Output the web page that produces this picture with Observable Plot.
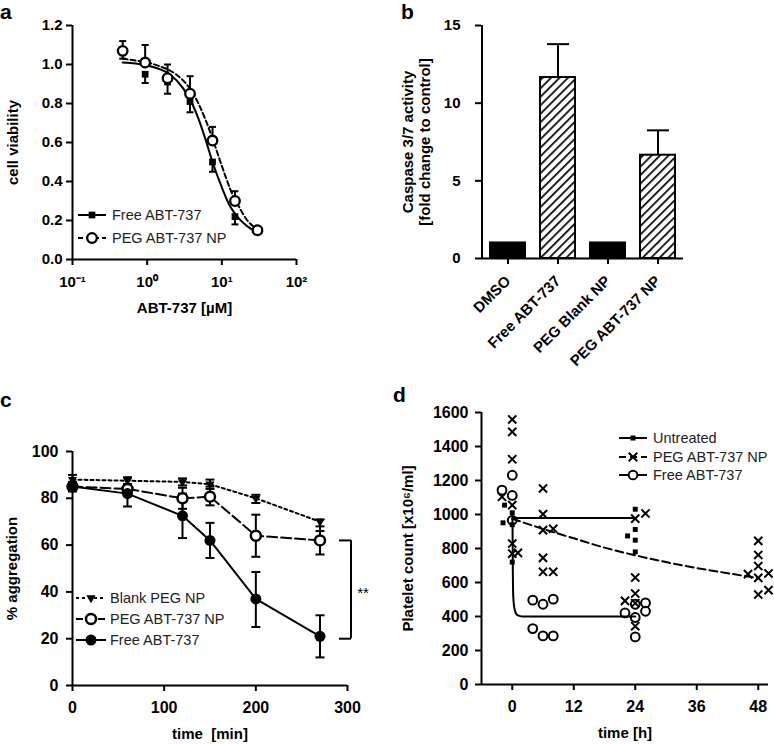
<!DOCTYPE html>
<html><head><meta charset="utf-8">
<script src="https://cdn.jsdelivr.net/npm/d3@7"></script>
<script src="https://cdn.jsdelivr.net/npm/@observablehq/plot@0.6"></script>
<style>
body{margin:0;background:#fff;}
#fig{position:relative;width:774px;height:744px;overflow:hidden;background:#fff;font-family:"Liberation Sans",Arial,Helvetica,sans-serif;}
.panel{position:absolute;}
.panel svg{overflow:visible;}
#overlay{position:absolute;left:0;top:0;pointer-events:none;}
</style></head><body><div id="fig"></div>
<script>
const FONT = '"Liberation Sans", Arial, Helvetica, sans-serif';

// ---------- Panel a: cell viability ----------
const concA = [0.47, 0.94, 1.875, 3.75, 7.5, 15, 30];
const freeA = [1.06, 0.95, 0.91, 0.81, 0.50, 0.22, 0.15];
const freeLoA = [1.03, 0.905, 0.85, 0.755, 0.45, 0.18, 0.14];
const pegA = [1.07, 1.01, 0.93, 0.85, 0.61, 0.30, 0.15];
const pegHiA = [1.12, 1.10, 1.00, 0.94, 0.68, 0.35, 0.165];
const fitConcA = [0.47, 0.7, 1, 1.5, 2, 3, 4, 5, 6, 7.5, 10, 13, 17, 22, 30];
const freeFitA = [1.01, 1.005, 0.995, 0.975, 0.95, 0.88, 0.80, 0.71, 0.62, 0.50, 0.37, 0.27, 0.21, 0.17, 0.14];
const pegFitA = [1.03, 1.02, 1.01, 0.99, 0.97, 0.92, 0.86, 0.79, 0.72, 0.62, 0.48, 0.36, 0.27, 0.20, 0.155];
const xTicksA = [0.1, 1, 10, 100];
const xTickLabelsA = ["10\u207B\u00B9", "10\u2070", "10\u00B9", "10\u00B2"];
const yTicksA = [0, 0.2, 0.4, 0.6, 0.8, 1.0, 1.2];

// ---------- Panel b: caspase activity ----------
const catsB = ["DMSO", "Free ABT-737", "PEG Blank NP", "PEG ABT-737 NP"];
const valsB = [1, 11.65, 1, 6.65];
const hiB = [null, 13.8, null, 8.25];
const hatchB = [false, true, false, true];
const yTicksB = [0, 5, 10, 15];
const yLabelB = ["Caspase 3/7 activity", "[fold change to control]"];

// ---------- Panel c: aggregation ----------
const timeC = [0, 60, 120, 150, 200, 270];
const blankC = [88, 87.5, 87, 86, 80, 70];
const blankLoC = [86, 86, 85.5, 84, 78, 66];
const blankHiC = [90, 89, 88.5, 88, 81.5, 71];
const pegC = [85, 84, 80, 80.7, 64, 62];
const pegLoC = [83, 81, 75.5, 77, 55, 56];
const pegHiC = [87, 86, 84.5, 85, 73, 68];
const freeC = [85, 82, 72.5, 62, 37, 21];
const freeLoC = [83, 76.5, 63, 54.5, 25, 12];
const freeHiC = [87, 86, 82, 69.5, 48.5, 30];
const xTicksC = [0, 100, 200, 300];
const yTicksC = [0, 20, 40, 60, 80, 100];

// ---------- Panel d: platelet count ----------
const untreatedH = [-1.5, -1.8, 0, 0, 0, 22.5, 24, 24, 24, 24];
const untreatedV = [1055, 951, 1010, 940, 720, 874, 1031, 912, 849, 780];
const pegH = [0, 0, 0, -2, 0, 0, 0, 1.1, 6, 6, 6, 8, 6, 6, 8, 24, 26, 24, 24, 22, 24, 24, 46, 48, 48, 48, 48, 48, 50, 50];
const pegV = [1559, 1486, 1325, 1104, 1055, 829, 770, 774, 1153, 1002, 908, 916, 745, 663, 663, 976, 1006, 629, 535, 492, 478, 343, 649, 845, 762, 697, 627, 529, 653, 555];
const freeH = [-2, 0, 0, 0, 4, 6, 8, 4, 6, 8, 22, 24, 24, 24, 26, 26];
const freeV = [1143, 1231, 1112, 966, 496, 472, 502, 329, 286, 286, 421, 472, 394, 280, 480, 431];
const untreatedFitH = [0, 24];
const untreatedFitV = [980, 980];
const freeFitH = [0, 0.05, 0.1, 0.2, 0.5, 1, 2, 24];
const freeFitV = [975, 960, 720, 515, 437, 408, 400, 400];
const pegFitH = [0, 6, 12, 18, 24, 30, 36, 42, 48];
const pegFitV = [975, 915, 860, 805, 760, 720, 685, 655, 625];
const xTicksD = [0, 12, 24, 36, 48];
const yTicksD = [0, 200, 400, 600, 800, 1000, 1200, 1400, 1600];

// ---------- helpers ----------
const capSymbol = {draw(ctx, size) { const r = Math.sqrt(size / Math.PI); ctx.moveTo(-r, 0); ctx.lineTo(r, 0); }};
const zip = (keys, arrs) => arrs[0].map((_, i) => Object.fromEntries(keys.map((k, j) => [k, arrs[j][i]])));
const baseStyle = (fs) => ({fontFamily: FONT, fontSize: fs + "px", fontWeight: "bold", color: "black", background: "transparent", overflow: "visible"});
const labelOpts = {fontSize: 15, fontWeight: "bold", textAnchor: "middle", lineAnchor: "middle"};
const fig = document.getElementById("fig");
function place(svg, left, top, w) {
  const div = document.createElement("div");
  div.className = "panel";
  div.style.left = left + "px"; div.style.top = top + "px"; div.style.width = w + "px";
  div.appendChild(svg); fig.appendChild(div);
}

// ---------- Panel a ----------
const rowsA = zip(["c", "free", "freeLo", "peg", "pegHi"], [concA, freeA, freeLoA, pegA, pegHiA]);
const fitA = zip(["c", "free", "peg"], [fitConcA, freeFitA, pegFitA]);
const plotA = Plot.plot({
  width: 390, height: 320, marginLeft: 72, marginRight: 94, marginTop: 25, marginBottom: 61,
  style: baseStyle(15),
  x: {type: "log", domain: [0.1, 100], label: null},
  y: {domain: [0, 1.2], label: null},
  marks: [
    Plot.axisX({ticks: xTicksA, tickFormat: d => xTickLabelsA[xTicksA.indexOf(d)], tickSize: 6, tickPadding: 11, strokeWidth: 2, label: null}),
    Plot.axisY({ticks: yTicksA, tickFormat: d3.format(".1f"), tickSize: 6, tickPadding: 4, strokeWidth: 2, label: null}),
    Plot.ruleY([0], {strokeWidth: 2}),
    Plot.ruleX([0.1], {strokeWidth: 2}),
    Plot.text(["ABT-737 [\u00B5M]"], {frameAnchor: "bottom", dy: 49, ...labelOpts}),
    Plot.text(["cell viability"], {frameAnchor: "left", dx: -59, rotate: -90, ...labelOpts}),
    Plot.ruleX(rowsA, {x: "c", y1: "free", y2: "freeLo", strokeWidth: 2}),
    Plot.dot(rowsA, {x: "c", y: "freeLo", symbol: capSymbol, r: 3.5, stroke: "black", fill: "none", strokeWidth: 2}),
    Plot.ruleX(rowsA, {x: "c", y1: "peg", y2: "pegHi", strokeWidth: 2}),
    Plot.dot(rowsA, {x: "c", y: "pegHi", symbol: capSymbol, r: 3.5, stroke: "black", fill: "none", strokeWidth: 2}),
    Plot.line(fitA, {x: "c", y: "free", curve: "monotone-x", strokeWidth: 2}),
    Plot.line(fitA, {x: "c", y: "peg", curve: "monotone-x", strokeWidth: 2, strokeDasharray: "5,3"}),
    Plot.dot(rowsA, {x: "c", y: "free", symbol: "square", r: 3.8, fill: "black"}),
    Plot.dot(rowsA, {x: "c", y: "peg", r: 4.8, stroke: "black", strokeWidth: 2.3, fill: "white"})
  ]
});
place(plotA, 0, 0, 390);

// ---------- Panel b ----------
const rowsB = zip(["c", "v", "hi", "hatch"], [catsB, valsB, hiB, hatchB]);
const pIn = 0.3, pOut = 0.17, wB = 384, mlB = 91, mrB = 91;
const stepB = (wB - mlB - mrB) / (catsB.length - pIn + 2 * pOut);
const leftOffB = stepB * pOut + stepB * (1 - pIn) / 2;
const plotB = Plot.plot({
  width: wB, height: 380, marginLeft: mlB, marginRight: mrB, marginTop: 25, marginBottom: 122,
  style: baseStyle(15),
  x: {type: "band", domain: catsB, paddingInner: pIn, paddingOuter: pOut, label: null},
  y: {domain: [0, 15], label: null},
  marks: [
    Plot.barY(rowsB.filter(d => !d.hatch), {x: "c", y: "v", fill: "black", stroke: "black", strokeWidth: 2}),
    Plot.barY(rowsB.filter(d => d.hatch), {x: "c", y: "v", fill: "url(#hatchB)", stroke: "black", strokeWidth: 2}),
    Plot.ruleX(rowsB.filter(d => d.hi != null), {x: "c", y1: "v", y2: "hi", strokeWidth: 2}),
    Plot.dot(rowsB.filter(d => d.hi != null), {x: "c", y: "hi", symbol: capSymbol, r: 11, stroke: "black", fill: "none", strokeWidth: 2}),
    Plot.axisX({tickRotate: -45, tickSize: 6, tickPadding: 14, strokeWidth: 2, fontSize: 15, label: null}),
    Plot.axisY({ticks: yTicksB, tickSize: 6, tickPadding: 15, strokeWidth: 2, label: null}),
    Plot.ruleY([0], {strokeWidth: 2}),
    Plot.ruleX([catsB[0]], {dx: -leftOffB, strokeWidth: 2}),
    Plot.text([yLabelB[0]], {frameAnchor: "left", dx: -73, rotate: -90, ...labelOpts}),
    Plot.text([yLabelB[1]], {frameAnchor: "left", dx: -56, rotate: -90, ...labelOpts})
  ]
});
{
  const defs = d3.select(plotB).insert("defs", ":first-child");
  const pat = defs.append("pattern").attr("id", "hatchB").attr("patternUnits", "userSpaceOnUse")
    .attr("width", 6).attr("height", 6).attr("patternTransform", "rotate(45)");
  pat.append("rect").attr("width", 6).attr("height", 6).attr("fill", "white");
  pat.append("rect").attr("width", 1.7).attr("height", 6).attr("fill", "black");
}
place(plotB, 390, 0, wB);

// ---------- Panel c ----------
const rowsC = zip(["t", "blank", "blankLo", "blankHi", "peg", "pegLo", "pegHi", "free", "freeLo", "freeHi"],
  [timeC, blankC, blankLoC, blankHiC, pegC, pegLoC, pegHiC, freeC, freeLoC, freeHiC]);
const lastC = rowsC[rowsC.length - 1];
const errMarks = (lo, hi) => [
  Plot.ruleX(rowsC, {x: "t", y1: lo, y2: hi, strokeWidth: 2}),
  Plot.dot(rowsC, {x: "t", y: lo, symbol: capSymbol, r: 4.5, stroke: "black", fill: "none", strokeWidth: 2}),
  Plot.dot(rowsC, {x: "t", y: hi, symbol: capSymbol, r: 4.5, stroke: "black", fill: "none", strokeWidth: 2})
];
const plotC = Plot.plot({
  width: 390, height: 364, marginLeft: 72, marginRight: 43, marginTop: 71, marginBottom: 59,
  style: baseStyle(16),
  x: {domain: [0, 300], label: null},
  y: {domain: [0, 100], label: null},
  marks: [
    Plot.axisX({ticks: xTicksC, tickSize: 6, tickPadding: 10, strokeWidth: 2, label: null}),
    Plot.axisY({ticks: yTicksC, tickSize: 6, tickPadding: 8, strokeWidth: 2, label: null}),
    Plot.ruleY([0], {strokeWidth: 2}),
    Plot.ruleX([0], {strokeWidth: 2}),
    Plot.text(["time  [min]"], {frameAnchor: "bottom", dy: 49, ...labelOpts}),
    Plot.text(["% aggregation"], {frameAnchor: "left", dx: -60, rotate: -90, ...labelOpts}),
    ...errMarks("blankLo", "blankHi"),
    ...errMarks("pegLo", "pegHi"),
    ...errMarks("freeLo", "freeHi"),
    Plot.line(rowsC, {x: "t", y: "blank", strokeWidth: 2, strokeDasharray: "3,3"}),
    Plot.line(rowsC, {x: "t", y: "peg", strokeWidth: 2, strokeDasharray: "10,4"}),
    Plot.line(rowsC, {x: "t", y: "free", strokeWidth: 2}),
    Plot.dot(rowsC, {x: "t", y: "blank", symbol: "triangle", rotate: 180, r: 3.4, fill: "black"}),
    Plot.dot(rowsC, {x: "t", y: "peg", r: 5, stroke: "black", strokeWidth: 2.5, fill: "white"}),
    Plot.dot(rowsC, {x: "t", y: "free", r: 5.5, fill: "black"}),
    // significance bracket between last PEG ABT-737 NP and Free ABT-737 values
    Plot.ruleX([lastC.t], {y1: lastC.peg, y2: lastC.free - 1, dx: 31, strokeWidth: 2}),
    Plot.dot([lastC.peg, lastC.free - 1], {x: lastC.t, y: d => d, dx: 25, symbol: capSymbol, r: 6, stroke: "black", fill: "none", strokeWidth: 2}),
    Plot.text(["**"], {x: lastC.t, y: (lastC.peg + lastC.free) / 2, dx: 43, dy: 5, fontSize: 15, fontWeight: "normal"})
  ]
});
place(plotC, 0, 380, 390);

// ---------- Panel d ----------
const untreatedD = zip(["h", "v"], [untreatedH, untreatedV]);
const pegD = zip(["h", "v"], [pegH, pegV]);
const freeD = zip(["h", "v"], [freeH, freeV]);
const untreatedFitD = zip(["h", "v"], [untreatedFitH, untreatedFitV]);
const freeFitD = zip(["h", "v"], [freeFitH, freeFitV]);
const pegFitD = zip(["h", "v"], [pegFitH, pegFitV]);
const plotD = Plot.plot({
  width: 384, height: 364, marginLeft: 91, marginRight: 6, marginTop: 32, marginBottom: 60,
  style: baseStyle(16),
  x: {domain: [-6, 50], label: null},
  y: {domain: [0, 1600], label: null},
  marks: [
    Plot.axisX({ticks: xTicksD, tickSize: 6, tickPadding: 10, strokeWidth: 2, label: null}),
    Plot.axisY({ticks: yTicksD, tickFormat: d3.format("d"), tickSize: 6, tickPadding: 7, strokeWidth: 2, label: null}),
    Plot.ruleY([0], {strokeWidth: 2}),
    Plot.ruleX([-6], {strokeWidth: 2}),
    Plot.text(["time [h]"], {frameAnchor: "bottom", dy: 49, ...labelOpts}),
    Plot.text(["Platelet count [x10\u2076/ml]"], {frameAnchor: "left", dx: -73, rotate: -90, ...labelOpts}),
    Plot.line(untreatedFitD, {x: "h", y: "v", strokeWidth: 2}),
    Plot.line(freeFitD, {x: "h", y: "v", strokeWidth: 2, curve: "monotone-x"}),
    Plot.line(pegFitD, {x: "h", y: "v", strokeWidth: 2, strokeDasharray: "8,4", curve: "monotone-x"}),
    Plot.dot(untreatedD, {x: "h", y: "v", symbol: "square", r: 2.8, fill: "black"}),
    Plot.dot(pegD, {x: "h", y: "v", symbol: "times", r: 3.8, stroke: "black", strokeWidth: 2}),
    Plot.dot(freeD, {x: "h", y: "v", r: 4.4, stroke: "black", strokeWidth: 2, fill: "none"})
  ]
});
place(plotD, 390, 380, 384);

// ---------- overlay: panel letters and legends ----------
const ov = d3.select(fig).append("svg").attr("id", "overlay").attr("width", 774).attr("height", 744)
  .attr("font-family", FONT);
const letters = [{t: "a", x: 0, y: 19}, {t: "b", x: 401, y: 19}, {t: "c", x: 0, y: 407}, {t: "d", x: 393, y: 402}];
ov.selectAll("text.letter").data(letters).join("text").attr("class", "letter")
  .attr("x", d => d.x).attr("y", d => d.y).attr("font-size", 21).attr("font-weight", "bold").text(d => d.t);

function legend(spec) {
  const g = ov.append("g");
  spec.items.forEach((it, i) => {
    const y = spec.ys[i];
    g.append("line").attr("x1", spec.x0).attr("x2", spec.x1).attr("y1", y).attr("y2", y)
      .attr("stroke", "black").attr("stroke-width", 2).attr("stroke-dasharray", it.dash || null);
    g.append("path").attr("d", d3.symbol(it.symbol, it.size)())
      .attr("transform", `translate(${(spec.x0 + spec.x1) / 2},${y}) rotate(${it.rotate || 0})`)
      .attr("fill", it.fill).attr("stroke", it.stroke || "none").attr("stroke-width", it.sw || 0);
    g.append("text").attr("x", spec.tx).attr("y", y).attr("dy", "0.36em").attr("font-size", spec.fs)
      .attr("fill", "#222").text(it.label);
  });
}
legend({x0: 78, x1: 106, tx: 112, ys: [215, 238], fs: 14.5, items: [
  {label: "Free ABT-737", symbol: d3.symbolSquare, size: 45, fill: "black"},
  {label: "PEG ABT-737 NP", dash: "5,3", symbol: d3.symbolCircle, size: 72, fill: "white", stroke: "black", sw: 2.3}
]});
legend({x0: 76, x1: 106, tx: 110, ys: [598, 619, 640], fs: 14.5, items: [
  {label: "Blank PEG NP", dash: "3,3", symbol: d3.symbolTriangle, size: 36, rotate: 180, fill: "black"},
  {label: "PEG ABT-737 NP", dash: "7,4", symbol: d3.symbolCircle, size: 79, fill: "white", stroke: "black", sw: 2.5},
  {label: "Free ABT-737", symbol: d3.symbolCircle, size: 95, fill: "black"}
]});
legend({x0: 619, x1: 647, tx: 653, ys: [438, 457, 475], fs: 14.5, items: [
  {label: "Untreated", symbol: d3.symbolSquare, size: 25, fill: "black"},
  {label: "PEG ABT-737 NP", dash: "7,4", symbol: d3.symbolTimes, size: 50, fill: "none", stroke: "black", sw: 2},
  {label: "Free ABT-737", symbol: d3.symbolCircle, size: 60, fill: "white", stroke: "black", sw: 2}
]});
</script></body></html>
